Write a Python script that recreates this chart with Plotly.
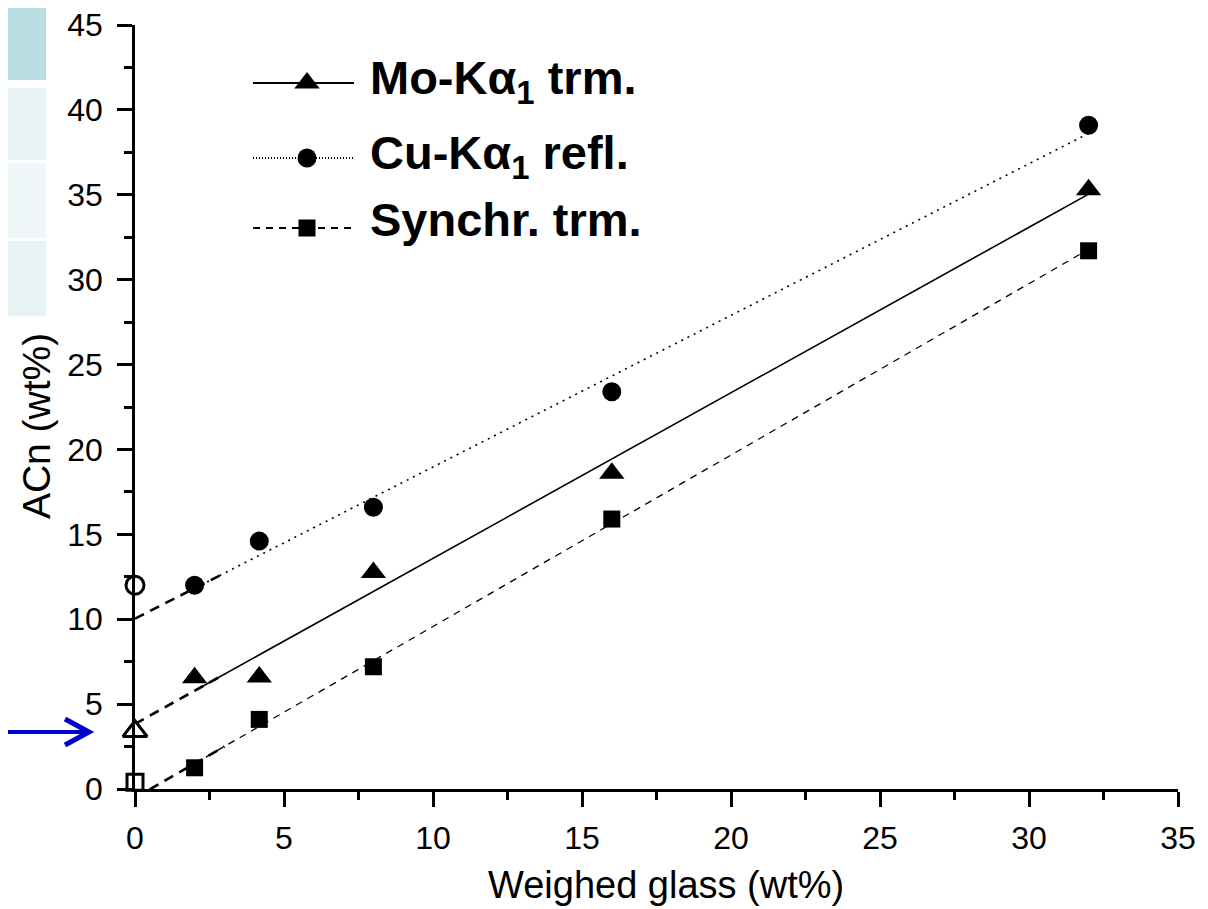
import numpy as np
import plotly.graph_objects as go

# ---------------- data ----------------
x_weighed = [2, 4.17, 8, 16, 32]
mo_acn = [6.55, 6.6, 12.75, 18.6, 35.3]      # Mo-Ka1 transmission
cu_acn = [12.0, 14.6, 16.6, 23.4, 39.1]      # Cu-Ka1 reflection
syn_acn = [1.25, 4.1, 7.2, 15.9, 31.7]       # Synchrotron transmission

x_zero = [0]
mo_zero = [3.4]
cu_zero = [12.0]
syn_zero = [0.4]

series_names = ["Mo-Kα<sub>1</sub> trm.", "Cu-Kα<sub>1</sub> refl.", "Synchr. trm."]
x_ticks = [0, 5, 10, 15, 20, 25, 30, 35]
y_ticks = [0, 5, 10, 15, 20, 25, 30, 35, 40, 45]
x_title = "Weighed glass (wt%)"
y_title = "ACn (wt%)"

# ---------------- layout constants (page pixels) ----------------
OFF = 8                      # body margin of the html page
P_L, P_R, P_T, P_B = 135, 1178, 25, 789   # plot area in page pixels
W, H = 1200, 901
ML, MT = P_L - OFF, P_T - OFF
PW, PH = P_R - P_L, P_B - P_T
MR, MB = W - ML - PW, H - MT - PH
FONT = "Arial, Liberation Sans, sans-serif"
EXTRAP_END = 3.0


def px2paper(px, py):
    return (px - P_L) / PW, (P_B - py) / PH


fig = go.Figure()

series = [
    (mo_acn, mo_zero, "triangle-up", 22, "solid", 1.6),
    (cu_acn, cu_zero, "circle", 19, "2px,5px", 1.6),
    (syn_acn, syn_zero, "square", 17, "7px,6px", 1.3),
]

# fit lines (least squares) + extrapolation to 0
for ys, yz, sym, size, dash, lw in series:
    slope, icpt = np.polyfit(x_weighed, ys, 1)
    xe = np.array([0.0, EXTRAP_END])
    fig.add_trace(go.Scatter(x=xe, y=icpt + slope * xe, mode="lines",
                             line=dict(color="black", width=2.6, dash="10px,7px"),
                             showlegend=False, hoverinfo="skip", cliponaxis=False))
    xf = np.array([min(x_weighed), max(x_weighed)])
    fig.add_trace(go.Scatter(x=xf, y=icpt + slope * xf, mode="lines",
                             line=dict(color="black", width=lw, dash=dash),
                             showlegend=False, hoverinfo="skip", cliponaxis=False))

# markers
for (ys, yz, sym, size, dash, lw), name in zip(series, series_names):
    fig.add_trace(go.Scatter(x=x_weighed, y=ys, mode="markers", name=name,
                             marker=dict(symbol=sym, size=size, color="black",
                                         line=dict(width=0)),
                             showlegend=False, cliponaxis=False))
    fig.add_trace(go.Scatter(x=x_zero, y=yz, mode="markers",
                             marker=dict(symbol=sym, size=size - 1, color="white",
                                         line=dict(width=3, color="black")),
                             showlegend=False, cliponaxis=False))

# ---------------- custom legend (pixel-based overlay axes) ----------------
LEG_X0, LEG_X1, LEG_XM, LEG_TX = 253, 354, 307, 368
LEG_ROWS = [83, 158, 228]
LEG_TEXT_Y = [81, 156, 219]
leg_dash = ["solid", "1px,2px", "7px,6px"]
for (ys, yz, sym, size, dash, lw), ld, ry, ty, name in zip(series, leg_dash, LEG_ROWS, LEG_TEXT_Y, series_names):
    fig.add_trace(go.Scatter(x=[LEG_X0, LEG_X1], y=[ry, ry], mode="lines",
                             line=dict(color="black", width=1.8, dash=ld),
                             xaxis="x2", yaxis="y2", showlegend=False, hoverinfo="skip"))
    fig.add_trace(go.Scatter(x=[LEG_XM], y=[ry], mode="markers",
                             marker=dict(symbol=sym, size=size, color="black", line=dict(width=0)),
                             xaxis="x2", yaxis="y2", showlegend=False, hoverinfo="skip"))
    fig.add_annotation(x=LEG_TX, y=ty, xref="x2", yref="y2", text="<b>" + name + "</b>",
                       showarrow=False, xanchor="left", yanchor="middle",
                       font=dict(family=FONT, size=47, color="black"))

# ---------------- decorative left panels ----------------
panels = [(7, 80, "#b9dfe2"), (88, 160, "#e6f2f3"), (163, 238, "#f0f7f9"), (241, 316, "#e6f2f3")]
for y0, y1, col in panels:
    x0p, y0p = px2paper(0, y1)
    x1p, y1p = px2paper(46, y0)
    fig.add_shape(type="rect", xref="paper", yref="paper", x0=x0p, x1=x1p, y0=y0p, y1=y1p,
                  fillcolor=col, line=dict(width=0), layer="below")

# ---------------- blue arrow ----------------
ax0, ay = px2paper(0, 732)
ax1, _ = px2paper(89, 732)
hx, hy0 = px2paper(65, 719)
_, hy1 = px2paper(65, 745)
fig.add_shape(type="line", xref="paper", yref="paper", x0=ax0, x1=ax1 - 0.002, y0=ay, y1=ay,
              line=dict(color="#0000cc", width=4))
fig.add_shape(type="path", xref="paper", yref="paper",
              path=f"M {hx} {hy0} L {ax1} {ay} L {hx} {hy1}",
              line=dict(color="#0000cc", width=5))

# ---------------- axis titles ----------------
fig.add_annotation(x=0.509, y=0, xref="paper", yref="paper", yshift=-96, text=x_title,
                   showarrow=False, xanchor="center", yanchor="middle",
                   font=dict(family=FONT, size=38, color="black"))
fig.add_annotation(x=0, y=0.475, xref="paper", yref="paper", xshift=-99, text=y_title,
                   textangle=-90, showarrow=False, xanchor="center", yanchor="middle",
                   font=dict(family=FONT, size=39, color="black"))

axis_common = dict(showgrid=False, zeroline=False, showline=True, linecolor="black",
                   linewidth=2.5, ticks="outside", ticklen=15, tickwidth=2.5, tickcolor="black",
                   tickfont=dict(family=FONT, size=32, color="black"), mirror=False,
                   ticklabeloverflow="allow", automargin=False)

fig.update_layout(
    width=W, height=H,
    margin=dict(l=ML, r=MR, t=MT, b=MB, autoexpand=False),
    plot_bgcolor="white", paper_bgcolor="white",
    showlegend=False,
    xaxis=dict(range=[0, 35], tickvals=x_ticks, ticklabelstandoff=4,
               minor=dict(ticks="outside", ticklen=8, tickwidth=2.5, dtick=2.5, tickcolor="black"),
               **axis_common),
    yaxis=dict(range=[0, 45], tickvals=y_ticks, ticklabelstandoff=8,
               minor=dict(ticks="outside", ticklen=8, tickwidth=2.5, dtick=2.5, tickcolor="black"),
               **axis_common),
    xaxis2=dict(overlaying="x", range=[P_L, P_R], visible=False, automargin=False),
    yaxis2=dict(overlaying="y", range=[P_B, P_T], visible=False, automargin=False),
)

fig.write_html("out.html")
